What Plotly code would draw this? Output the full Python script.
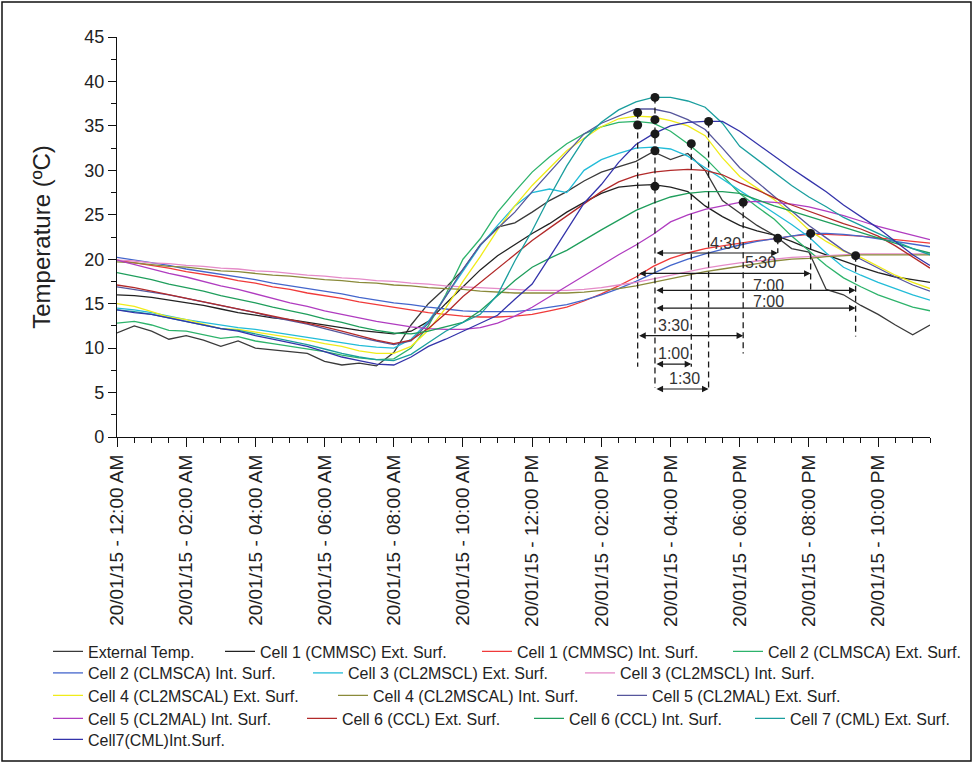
import plotly.graph_objects as go

# ---------------- data ----------------
hours = [0.0, 0.5, 1.0, 1.5, 2.0, 2.5, 3.0, 3.5, 4.0, 4.5, 5.0, 5.5, 6.0, 6.5, 7.0, 7.5,
         8.0, 8.5, 9.0, 9.5, 10.0, 10.5, 11.0, 11.5, 12.0, 12.5, 13.0, 13.5, 14.0, 14.5, 15.0, 15.5,
         16.0, 16.5, 17.0, 17.5, 18.0, 18.5, 19.0, 19.5, 20.0, 20.5, 21.0, 21.5, 22.0, 22.5, 23.0, 23.5]

ext_temp = [11.7, 12.5, 11.9, 11.0, 11.4, 10.9, 10.2, 10.8, 10.0, 9.8, 9.6, 9.4, 8.5, 8.1, 8.3, 8.0,
            9.5, 12.6, 15.0, 16.8, 18.8, 21.6, 23.6, 24.1, 25.3, 26.6, 27.6, 28.8, 29.8, 30.4, 31.0, 32.1,
            31.2, 31.9, 30.0, 26.6, 25.2, 23.8, 22.7, 21.2, 20.8, 16.6, 16.0, 14.8, 13.8, 12.6, 11.5, 12.6]
c1_ext = [16.0, 15.9, 15.7, 15.4, 15.1, 14.8, 14.4, 14.0, 13.7, 13.4, 13.2, 12.9, 12.6, 12.3, 12.0, 11.8,
          11.6, 11.9, 13.0, 15.0, 16.9, 18.8, 20.4, 21.7, 22.9, 24.0, 25.3, 26.4, 27.4, 28.1, 28.3, 28.4,
          28.1, 27.6, 26.0, 24.8, 23.8, 23.2, 22.7, 22.0, 21.2, 20.5, 19.8, 19.1, 18.5, 18.0, 17.7, 17.4]
c1_int = [19.9, 19.6, 19.3, 19.0, 18.6, 18.3, 18.0, 17.6, 17.3, 16.9, 16.6, 16.2, 15.9, 15.6, 15.2, 14.9,
          14.6, 14.3, 14.0, 13.8, 13.6, 13.5, 13.5, 13.6, 13.8, 14.2, 14.6, 15.3, 16.1, 17.0, 18.0, 19.2,
          20.1, 20.7, 21.2, 21.5, 21.8, 22.1, 22.3, 22.6, 22.8, 22.8, 22.7, 22.6, 22.4, 22.2, 22.0, 21.8]
c2_ext = [12.8, 13.0, 12.6, 12.0, 11.9, 11.5, 11.1, 11.3, 10.8, 10.5, 10.2, 9.9, 9.6, 9.2, 8.9, 8.7,
          8.8, 10.0, 12.5, 16.0, 20.0, 22.3, 25.3, 27.6, 29.8, 31.5, 33.0, 34.1, 34.9, 35.4, 35.5, 35.3,
          34.4, 33.0, 31.4, 29.4, 27.4, 25.9, 24.5, 22.6, 21.0, 19.3, 17.9, 16.9, 16.0, 15.3, 14.6, 14.2]
c2_int = [20.2, 19.9, 19.6, 19.3, 18.9, 18.6, 18.3, 18.0, 17.7, 17.3, 17.0, 16.7, 16.4, 16.1, 15.7, 15.4,
          15.1, 14.9, 14.6, 14.4, 14.2, 14.1, 14.1, 14.1, 14.3, 14.6, 14.9, 15.4, 16.0, 16.7, 17.5, 18.4,
          19.3, 20.0, 20.6, 21.1, 21.6, 22.0, 22.3, 22.6, 22.9, 22.9, 22.8, 22.6, 22.3, 22.0, 21.7, 21.4]
c3_ext = [14.5, 14.3, 14.0, 13.6, 13.2, 12.9, 12.6, 12.3, 12.1, 11.8, 11.5, 11.2, 10.9, 10.6, 10.3, 10.1,
          10.0, 11.0, 13.0, 15.8, 18.7, 21.5, 23.8, 26.0, 27.5, 27.9, 27.5, 30.0, 31.2, 31.9, 32.5, 32.6,
          32.4, 31.6, 30.3, 29.0, 27.8, 26.5, 25.2, 23.9, 22.5, 20.7, 19.1, 18.2, 17.4, 16.7, 16.0, 15.4]
c3_int = [19.9, 19.8, 19.6, 19.5, 19.3, 19.2, 19.0, 18.9, 18.7, 18.6, 18.4, 18.2, 18.1, 17.9, 17.8, 17.6,
          17.5, 17.3, 17.2, 17.0, 16.9, 16.8, 16.7, 16.6, 16.5, 16.5, 16.5, 16.6, 16.8, 17.1, 17.4, 17.8,
          18.2, 18.6, 19.0, 19.3, 19.6, 19.8, 20.0, 20.2, 20.3, 20.4, 20.5, 20.6, 20.6, 20.6, 20.6, 20.6]
c4_ext = [15.0, 14.7, 14.1, 13.5, 13.2, 12.7, 12.2, 12.1, 11.8, 11.5, 11.2, 10.9, 10.5, 10.2, 9.7, 9.4,
          9.4, 10.2, 12.0, 14.5, 17.5, 20.3, 23.3, 26.0, 28.3, 30.3, 32.2, 33.6, 34.9, 35.8, 36.1, 36.0,
          35.6, 35.0, 33.9, 31.4, 29.3, 28.0, 26.7, 25.1, 23.3, 22.0, 20.9, 20.2, 19.2, 18.2, 17.4, 16.7]
c4_int = [19.7, 19.6, 19.4, 19.2, 19.1, 18.9, 18.7, 18.6, 18.4, 18.2, 18.1, 17.9, 17.7, 17.6, 17.4, 17.3,
          17.1, 17.0, 16.8, 16.7, 16.6, 16.4, 16.3, 16.2, 16.2, 16.2, 16.2, 16.3, 16.5, 16.7, 17.0, 17.4,
          17.8, 18.2, 18.6, 18.9, 19.2, 19.5, 19.8, 20.0, 20.1, 20.3, 20.4, 20.5, 20.5, 20.5, 20.5, 20.5]
c5_ext = [16.9, 16.6, 16.3, 16.0, 15.6, 15.2, 14.8, 14.4, 14.0, 13.5, 13.1, 12.7, 12.2, 11.7, 11.2, 10.8,
          10.4, 10.8, 12.8, 15.8, 18.9, 21.6, 23.5, 25.3, 27.6, 29.8, 32.0, 34.1, 35.3, 36.1, 36.9, 36.9,
          36.5, 35.7, 34.6, 32.5, 30.3, 28.7, 27.1, 25.5, 23.8, 22.4, 21.0, 20.0, 19.0, 18.0, 17.1, 16.4]
c5_int = [19.9, 19.4, 18.9, 18.4, 18.0, 17.5, 17.0, 16.6, 16.1, 15.6, 15.1, 14.7, 14.2, 13.8, 13.4, 13.0,
          12.7, 12.4, 12.2, 12.1, 12.1, 12.3, 12.8, 13.6, 14.6, 15.8, 17.0, 18.1, 19.3, 20.5, 21.6, 22.8,
          24.2, 25.0, 25.6, 26.0, 26.4, 26.5, 26.4, 26.2, 25.9, 25.4, 24.9, 24.3, 23.7, 23.2, 22.7, 22.2]
c6_ext = [17.1, 16.8, 16.4, 16.0, 15.6, 15.2, 14.8, 14.4, 14.0, 13.6, 13.2, 12.8, 12.4, 11.9, 11.4, 10.9,
          10.5, 10.9, 12.2, 13.9, 15.8, 17.4, 19.0, 20.6, 22.1, 23.5, 24.9, 26.2, 27.6, 28.7, 29.4, 29.8,
          30.0, 30.1, 30.0, 29.5, 28.6, 27.8, 26.9, 26.1, 25.4, 24.7, 24.0, 23.4, 22.6, 21.5, 20.2, 19.0]
c6_int = [18.5, 18.1, 17.7, 17.2, 16.8, 16.4, 15.9, 15.5, 15.1, 14.6, 14.2, 13.8, 13.3, 12.9, 12.4, 12.0,
          11.7, 11.6, 11.9, 12.4, 12.9, 14.2, 15.9, 17.6, 19.1, 20.1, 21.0, 22.2, 23.3, 24.4, 25.5, 26.3,
          27.0, 27.4, 27.6, 27.6, 27.4, 26.7, 26.0, 25.4, 24.8, 24.2, 23.6, 23.0, 22.4, 21.8, 21.2, 20.7]
c7_ext = [14.3, 14.1, 13.8, 13.4, 13.0, 12.6, 12.2, 12.0, 11.6, 11.2, 10.8, 10.4, 9.9, 9.4, 9.0, 8.7,
          8.6, 9.3, 10.6, 11.9, 12.9, 13.8, 16.0, 19.8, 23.2, 27.0, 30.5, 33.5, 35.4, 36.8, 37.7, 38.2,
          38.2, 37.8, 37.1, 35.3, 32.7, 31.2, 29.8, 28.3, 27.0, 25.9, 24.7, 23.8, 22.9, 22.0, 21.2, 20.5]
c7_int = [14.3, 14.0, 13.8, 13.4, 13.0, 12.6, 12.2, 11.9, 11.4, 11.0, 10.6, 10.2, 9.6, 9.0, 8.6, 8.2,
          8.1, 9.0, 10.2, 11.0, 11.9, 12.8, 13.7, 15.5, 17.2, 20.2, 23.3, 26.3, 28.4, 30.9, 32.9, 34.1,
          35.0, 35.4, 35.5, 35.5, 34.4, 33.0, 31.5, 30.2, 28.9, 27.6, 26.1, 24.8, 23.5, 22.0, 20.5, 19.3]

series_names = ["External Temp.", "Cell 1 (CMMSC) Ext. Surf.", "Cell 1 (CMMSC) Int. Surf.",
                "Cell 2 (CLMSCA) Ext. Surf.", "Cell 2 (CLMSCA) Int. Surf.", "Cell 3 (CL2MSCL) Ext. Surf.",
                "Cell 3 (CL2MSCL) Int. Surf.", "Cell 4 (CL2MSCAL) Ext. Surf.", "Cell 4 (CL2MSCAL) Int. Surf.",
                "Cell 5 (CL2MAL) Ext. Surf.", "Cell 5 (CL2MAL) Int. Surf.", "Cell 6 (CCL) Ext. Surf.",
                "Cell 6 (CCL) Int. Surf.", "Cell 7 (CML) Ext. Surf.", "Cell7(CML)Int.Surf."]
series_values = [ext_temp, c1_ext, c1_int, c2_ext, c2_int, c3_ext, c3_int, c4_ext, c4_int,
                 c5_ext, c5_int, c6_ext, c6_int, c7_ext, c7_int]

tick_hours = [0, 2, 4, 6, 8, 10, 12, 14, 16, 18, 20, 22]
tick_labels = ["20/01/15 - 12:00 AM", "20/01/15 - 02:00 AM", "20/01/15 - 04:00 AM",
               "20/01/15 - 06:00 AM", "20/01/15 - 08:00 AM", "20/01/15 - 10:00 AM",
               "20/01/15 - 12:00 PM", "20/01/15 - 02:00 PM", "20/01/15 - 04:00 PM",
               "20/01/15 - 06:00 PM", "20/01/15 - 08:00 PM", "20/01/15 - 10:00 PM"]

# peak markers (time in h, temperature)
peak_t = [15.05, 15.05, 15.55, 15.55, 15.55, 15.55, 15.55, 16.6, 17.1, 18.1, 19.1, 20.05, 21.35]
peak_v = [36.5, 35.1, 38.2, 35.7, 34.1, 32.2, 28.2, 33.0, 35.5, 26.4, 22.35, 22.9, 20.4]

# dashed drop lines: time, top, bottom
drop_t = [15.05, 15.55, 16.6, 17.1, 18.1, 19.1, 20.05, 21.35]
drop_top = [36.5, 38.2, 33.0, 35.5, 26.4, 22.35, 22.9, 20.4]
drop_bottom = [7.9, 5.5, 7.9, 5.5, 9.4, 20.7, 16.5, 11.3]

# time-lag arrows: start, end, level, label, label position
lag_start = [15.55, 15.05, 15.55, 15.55, 15.05, 15.55, 15.55]
lag_end = [19.1, 20.05, 21.35, 21.35, 18.1, 16.6, 17.1]
lag_level = [20.7, 18.4, 16.5, 14.5, 11.4, 8.2, 5.4]
lag_text = ["4:30", "5:30", "7:00", "7:00", "3:30", "1:00", "1:30"]
lag_text_t = [17.6, 18.6, 18.84, 18.84, 16.1, 16.1, 16.4]
lag_text_v = [21.8, 19.6, 17.1, 15.2, 12.6, 9.4, 6.6]

# ---------------- style ----------------
colors = ["#3a3a3a", "#222222", "#f03a3a", "#2db36b", "#4466cc", "#22bcd8", "#e58bc8",
          "#f0ec1a", "#8a8a3a", "#56569c", "#b03cc0", "#b22a2a", "#1f9e5c", "#1a9e9e", "#3333aa"]
legend_pos = [(43, 651.5), (215, 651.5), (472, 651.5), (723, 651.5),
              (43, 673.0), (303, 673.0), (575, 673.0),
              (43, 695.5), (328, 695.5), (607, 695.5),
              (43, 718.5), (297, 718.5), (524, 718.5), (745, 718.5),
              (43, 739.5)]

W, H = 974, 763
ML, MR, MT, MB = 117, 44, 37, 326
FONT = "Liberation Sans, Arial, Helvetica, sans-serif"

fig = go.Figure()
layout_legends = {}
for k, (name, vals, col) in enumerate(zip(series_names, series_values, colors), start=1):
    lname = "legend" if k == 1 else f"legend{k}"
    fig.add_trace(go.Scatter(x=hours, y=vals, mode="lines", name=name,
                             line=dict(color=col, width=1.3), legend=lname))
    px, py = legend_pos[k - 1]
    layout_legends[lname] = dict(
        x=(px + 5) / W, y=1 - py / H, xref="container", yref="container",
        xanchor="left", yanchor="middle", orientation="h",
        bgcolor="rgba(0,0,0,0)", borderwidth=0,
        font=dict(family=FONT, size=16, color="#222222"))

fig.add_trace(go.Scatter(x=peak_t, y=peak_v, mode="markers", showlegend=False,
                         marker=dict(color="#1a1a1a", size=9)))

shapes = []
for t, top, bot in zip(drop_t, drop_top, drop_bottom):
    shapes.append(dict(type="line", xref="x", yref="y", x0=t, x1=t, y0=top, y1=bot,
                       line=dict(color="#1a1a1a", width=1.3, dash="6px,4px")))
# outer frame
plot_w = W - ML - MR
plot_h = H - MT - MB
shapes.append(dict(type="rect", xref="paper", yref="paper",
                   x0=(2 - ML) / plot_w, x1=(W - 3 - ML) / plot_w,
                   y0=-(H - 2 - MT - plot_h) / plot_h, y1=(plot_h + MT - 2) / plot_h,
                   line=dict(color="#111111", width=1.5), fillcolor="rgba(0,0,0,0)"))

annotations = []
for s, e, lv, txt, tx, ty in zip(lag_start, lag_end, lag_level, lag_text, lag_text_t, lag_text_v):
    annotations.append(dict(x=e, y=lv, ax=s, ay=lv, xref="x", yref="y", axref="x", ayref="y",
                            text="", showarrow=True, arrowhead=2, arrowside="end+start",
                            arrowsize=1.1, arrowwidth=1.2, arrowcolor="#1a1a1a"))
    annotations.append(dict(x=tx, y=ty, xref="x", yref="y", text=txt, showarrow=False,
                            font=dict(family=FONT, size=16, color="#333333")))

fig.update_layout(
    width=W, height=H, margin=dict(l=ML, r=MR, t=MT, b=MB, autoexpand=False),
    paper_bgcolor="white", plot_bgcolor="white",
    font=dict(family=FONT, size=18, color="#222222"),
    shapes=shapes, annotations=annotations,
    **layout_legends,
)
fig.update_xaxes(range=[0, 23.5], tickmode="array", tickvals=tick_hours, ticktext=tick_labels,
                 tickangle=-90, showline=True, linecolor="#111111", linewidth=1.3,
                 ticks="outside", ticklen=9, tickwidth=1.3, tickcolor="#111111",
                 showgrid=False, zeroline=False,
                 minor=dict(tickmode="linear", tick0=0, dtick=0.5, ticks="outside",
                            ticklen=5, tickwidth=1.2, tickcolor="#111111", showgrid=False),
                 tickfont=dict(family=FONT, size=19, color="#222222"))
fig.update_yaxes(range=[0, 45], tickmode="linear", tick0=0, dtick=5,
                 showline=True, linecolor="#111111", linewidth=1.3,
                 ticks="outside", ticklen=8, tickwidth=1.3, tickcolor="#111111",
                 showgrid=False, zeroline=False,
                 minor=dict(tickmode="linear", tick0=0, dtick=2.5, ticks="outside",
                            ticklen=5, tickwidth=1.2, tickcolor="#111111", showgrid=False),
                 tickfont=dict(family=FONT, size=18, color="#222222"),
                 title=dict(text="Temperature (ºC)", standoff=26,
                            font=dict(family=FONT, size=24, color="#222222")))

fig.write_html("out.html", config={"displayModeBar": False},
               post_script="document.body.style.margin='0px';")
